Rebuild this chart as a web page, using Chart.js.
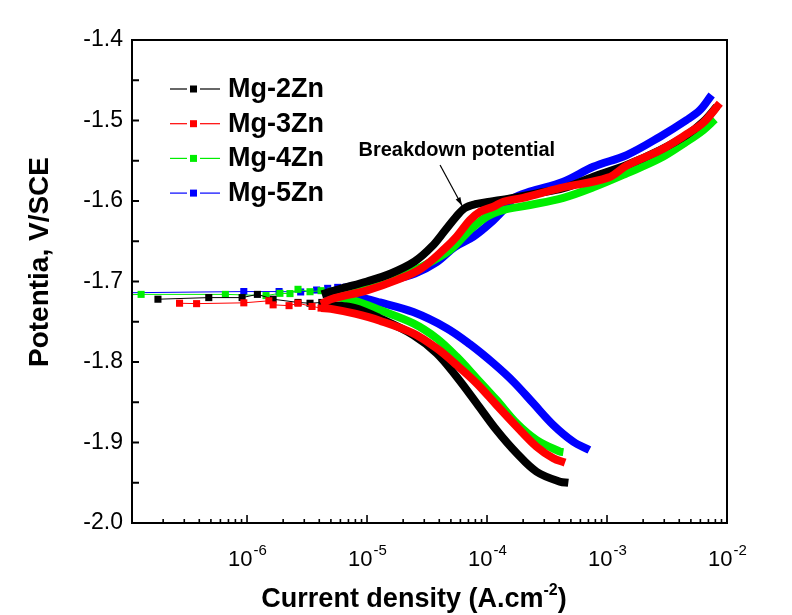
<!DOCTYPE html>
<html><head><meta charset="utf-8">
<script src="https://cdn.jsdelivr.net/npm/chart.js@4.4.1/dist/chart.umd.min.js"></script>
<style>html,body{margin:0;padding:0;background:#fff;}canvas{display:block;}</style>
</head><body>
<canvas id="c" width="792" height="615"></canvas>
<script>
// ---------- series names / colours ----------
const seriesNames = ['Mg-2Zn', 'Mg-3Zn', 'Mg-4Zn', 'Mg-5Zn'];
const seriesColors = ['#000000', '#ff0000', '#00ee00', '#0000ff'];

// ---------- axis ticks ----------
const xTickExponents = [-6, -5, -4, -3, -2];
const yTickValues = [-2.0, -1.9, -1.8, -1.7, -1.6, -1.5, -1.4];

// ---------- Mg-2Zn (current A/cm2, potential V/SCE) ----------
const mg2EcorrI = [1.81e-7, 4.8e-7, 9.1e-7, 1.22e-6, 1.65e-6, 2.66e-6, 3.35e-6, 4.2e-6];
const mg2EcorrE = [-1.722, -1.720, -1.720, -1.716, -1.722, -1.726, -1.727, -1.726];
const mg2CathI = [4.2e-6, 5.01e-6, 7.94e-6, 1.28e-5, 2.43e-5, 3.81e-5, 5.58e-5, 8.2e-5, 1.2e-4, 1.77e-4, 2.59e-4, 4.06e-4, 4.76e-4];
const mg2CathE = [-1.727, -1.729, -1.733, -1.7457, -1.7665, -1.7892, -1.8183, -1.8513, -1.8845, -1.9134, -1.9363, -1.9487, -1.950];
const mg2AnodI = [4.2e-6, 6.0e-6, 1.0e-5, 1.58e-5, 2.5e-5, 3.5e-5, 4.5e-5, 5.5e-5, 6.5e-5, 8.0e-5, 1.06e-4, 1.56e-4, 2.59e-4, 4.33e-4, 7.69e-4, 1.46e-3, 2.77e-3, 4.61e-3, 6.35e-3, 8.2e-3];
const mg2AnodE = [-1.716, -1.709, -1.700, -1.690, -1.675, -1.656, -1.636, -1.620, -1.609, -1.604, -1.6009, -1.5967, -1.5905, -1.5842, -1.5698, -1.5553, -1.5366, -1.518, -1.5015, -1.4829];

// ---------- Mg-3Zn ----------
const mg3EcorrI = [2.74e-7, 3.8e-7, 9.4e-7, 1.52e-6, 1.65e-6, 2.24e-6, 2.66e-6, 3.48e-6, 4.14e-6];
const mg3EcorrE = [-1.727, -1.7275, -1.7265, -1.724, -1.729, -1.730, -1.727, -1.731, -1.733];
const mg3CathI = [4.14e-6, 5.01e-6, 7.94e-6, 1.28e-5, 2.43e-5, 3.81e-5, 5.58e-5, 8.2e-5, 1.2e-4, 1.77e-4, 2.59e-4, 3.57e-4, 4.47e-4];
const mg3CathE = [-1.733, -1.734, -1.740, -1.7487, -1.7644, -1.783, -1.8037, -1.8265, -1.8534, -1.8804, -1.9052, -1.9196, -1.925];
const mg3AnodI = [4.14e-6, 5.01e-6, 1.0e-5, 1.78e-5, 2.82e-5, 4.47e-5, 5.58e-5, 7.21e-5, 8.75e-5, 1.13e-4, 1.37e-4, 2.0e-4, 4.06e-4, 1.02e-3, 1.46e-3, 2.77e-3, 4.61e-3, 6.31e-3, 8.71e-3];
const mg3AnodE = [-1.728, -1.722, -1.711, -1.698, -1.684, -1.6588, -1.6443, -1.6236, -1.6133, -1.6071, -1.6009, -1.596, -1.584, -1.571, -1.556, -1.537, -1.517, -1.503, -1.4786];

// ---------- Mg-4Zn ----------
const mg4EcorrI = [1.0e-7, 1.31e-7, 6.6e-7, 1.44e-6, 1.88e-6, 2.28e-6, 2.66e-6, 3.35e-6, 4.14e-6, 5.0e-6, 5.85e-6];
const mg4EcorrE = [-1.7165, -1.716, -1.716, -1.7175, -1.7147, -1.715, -1.7097, -1.7127, -1.7114, -1.712, -1.711];
const mg4CathI = [5.0e-6, 7.94e-6, 1.28e-5, 2.43e-5, 3.81e-5, 5.58e-5, 8.2e-5, 1.2e-4, 1.77e-4, 2.59e-4, 4.06e-4, 4.33e-4];
const mg4CathE = [-1.718, -1.724, -1.7354, -1.752, -1.7706, -1.7934, -1.8203, -1.8472, -1.8762, -1.8969, -1.9114, -1.912];
const mg4AnodI = [5.85e-6, 1.0e-5, 1.78e-5, 2.82e-5, 4.92e-5, 7.21e-5, 9.93e-5, 1.37e-4, 2.28e-4, 4.33e-4, 7.69e-4, 1.46e-3, 2.77e-3, 4.61e-3, 6.35e-3, 7.94e-3];
const mg4AnodE = [-1.711, -1.705, -1.695, -1.682, -1.6609, -1.636, -1.6195, -1.6112, -1.605, -1.596, -1.583, -1.5656, -1.547, -1.5263, -1.5118, -1.4985];

// ---------- Mg-5Zn ----------
const mg5EcorrI = [1.0e-7, 9.4e-7, 1.85e-6, 2.8e-6, 3.8e-6, 4.7e-6, 5.7e-6, 6.7e-6];
const mg5EcorrE = [-1.714, -1.7125, -1.7125, -1.713, -1.7106, -1.7085, -1.7073, -1.707];
const mg5CathI = [4.47e-6, 7.94e-6, 1.28e-5, 2.43e-5, 4.61e-5, 7.21e-5, 1.13e-4, 1.66e-4, 2.43e-4, 3.57e-4, 5.24e-4, 7.13e-4];
const mg5CathE = [-1.716, -1.719, -1.726, -1.738, -1.758, -1.778, -1.8016, -1.8245, -1.8513, -1.8783, -1.899, -1.9093];
const mg5AnodI = [6.7e-6, 1.0e-5, 1.58e-5, 2.51e-5, 3.8e-5, 5.4e-5, 7.7e-5, 1.06e-4, 1.37e-4, 1.66e-4, 2.28e-4, 4.33e-4, 7.69e-4, 1.46e-3, 2.77e-3, 4.61e-3, 5.96e-3, 7.45e-3];
const mg5AnodE = [-1.707, -1.703, -1.698, -1.690, -1.676, -1.657, -1.6443, -1.6277, -1.611, -1.5967, -1.5884, -1.576, -1.5574, -1.5429, -1.5201, -1.4994, -1.487, -1.4683];

// ---------- annotation ----------
const annotationText = 'Breakdown potential';

// ---------- build datasets ----------
const FONT = '"Liberation Sans", Arial, Helvetica, sans-serif';
const toPts = (I, E) => I.map((v, i) => ({x: v, y: E[i]}));
const alloys = [
  {ec: [mg2EcorrI, mg2EcorrE], ca: [mg2CathI, mg2CathE], an: [mg2AnodI, mg2AnodE]},
  {ec: [mg3EcorrI, mg3EcorrE], ca: [mg3CathI, mg3CathE], an: [mg3AnodI, mg3AnodE]},
  {ec: [mg4EcorrI, mg4EcorrE], ca: [mg4CathI, mg4CathE], an: [mg4AnodI, mg4AnodE]},
  {ec: [mg5EcorrI, mg5EcorrE], ca: [mg5CathI, mg5CathE], an: [mg5AnodI, mg5AnodE]}
];
const drawOrder = [1, 0, 2, 3];
const datasets = [];
drawOrder.forEach(k => {
  const a = alloys[k], col = seriesColors[k];
  const thick = (pts, tag) => ({
    label: seriesNames[k] + tag, data: pts, showLine: true, borderColor: col, backgroundColor: col,
    borderWidth: 8, pointRadius: 0, tension: 0.35, borderCapStyle: 'butt', borderJoinStyle: 'round'
  });
  datasets.push(thick(toPts(a.ca[0], a.ca[1]), ' cathodic'));
  datasets.push(thick(toPts(a.an[0], a.an[1]), ' anodic'));
  datasets.push({
    label: seriesNames[k], data: toPts(a.ec[0], a.ec[1]), showLine: true, borderColor: col,
    backgroundColor: col, borderWidth: 1, pointStyle: 'rect', pointRadius: 5, pointBorderWidth: 0,
    pointBackgroundColor: col, tension: 0, clip: 0
  });
});

function line(ctx, x1, y1, x2, y2) { ctx.beginPath(); ctx.moveTo(x1, y1); ctx.lineTo(x2, y2); ctx.stroke(); }

const decor = {
  id: 'decor',
  afterDraw(chart) {
    const {ctx, chartArea: a, scales: {x, y}} = chart;
    ctx.save();
    ctx.strokeStyle = '#000';
    ctx.fillStyle = '#000';
    // frame
    ctx.lineWidth = 2;
    ctx.strokeRect(a.left, a.top, a.right - a.left, a.bottom - a.top);
    // x ticks (inward)
    ctx.lineWidth = 1.6;
    for (let e = -7; e <= -2; e++) {
      for (let s = 1; s <= 9; s++) {
        const v = s * Math.pow(10, e);
        if (v < x.min * 0.999 || v > x.max * 1.001) continue;
        const px = x.getPixelForValue(v);
        line(ctx, px, a.bottom, px, a.bottom - (s === 1 ? 8 : 4));
      }
    }
    // x tick labels: 10 with raised exponent
    ctx.textAlign = 'left';
    ctx.textBaseline = 'alphabetic';
    xTickExponents.forEach(e => {
      const px = x.getPixelForValue(Math.pow(10, e));
      ctx.font = '22px ' + FONT;
      const wb = ctx.measureText('10').width;
      ctx.font = '15px ' + FONT;
      const we = ctx.measureText(String(e)).width;
      const sx = px - (wb + we) / 2;
      ctx.font = '22px ' + FONT;
      ctx.fillText('10', sx, a.bottom + 43);
      ctx.font = '15px ' + FONT;
      ctx.fillText(String(e), sx + wb + 1, a.bottom + 32);
    });
    // y ticks (inward, every 0.05)
    ctx.lineWidth = 2;
    for (let k = 0; k <= 12; k++) {
      const py = y.getPixelForValue(y.min + k * 0.05);
      line(ctx, a.left, py, a.left + 7, py);
    }
    // legend
    const lx = a.left + 38, ly = a.top + 49, dy = 34.7;
    seriesNames.forEach((name, i) => {
      const yy = ly + i * dy;
      ctx.strokeStyle = seriesColors[i];
      ctx.fillStyle = seriesColors[i];
      ctx.lineWidth = 1.2;
      line(ctx, lx, yy, lx + 17, yy);
      line(ctx, lx + 30, yy, lx + 50, yy);
      ctx.fillRect(lx + 20, yy - 3.5, 7, 7);
      ctx.fillStyle = '#000';
      ctx.font = 'bold 27px ' + FONT;
      ctx.textAlign = 'left';
      ctx.textBaseline = 'alphabetic';
      ctx.fillText(name, lx + 58, yy + 8);
    });
    // annotation
    ctx.fillStyle = '#000';
    ctx.strokeStyle = '#000';
    ctx.font = 'bold 20px ' + FONT;
    ctx.textAlign = 'center';
    ctx.textBaseline = 'middle';
    ctx.fillText(annotationText, x.getPixelForValue(5.6e-5), y.getPixelForValue(-1.537));
    const tx = x.getPixelForValue(4.06e-5), ty = y.getPixelForValue(-1.5553);
    const hx = x.getPixelForValue(6.2e-5), hy = y.getPixelForValue(-1.606);
    ctx.lineWidth = 1.2;
    line(ctx, tx, ty, hx, hy);
    const ang = Math.atan2(hy - ty, hx - tx);
    ctx.beginPath();
    ctx.moveTo(hx, hy);
    ctx.lineTo(hx - 9 * Math.cos(ang - 0.3), hy - 9 * Math.sin(ang - 0.3));
    ctx.lineTo(hx - 9 * Math.cos(ang + 0.3), hy - 9 * Math.sin(ang + 0.3));
    ctx.closePath();
    ctx.fill();
    // x title with superscript
    ctx.textAlign = 'left';
    ctx.textBaseline = 'alphabetic';
    const main = 'Current density (A.cm', sup = '-2', end = ')';
    ctx.font = 'bold 27px ' + FONT;
    const w1 = ctx.measureText(main).width, w3 = ctx.measureText(end).width;
    ctx.font = 'bold 16px ' + FONT;
    const w2 = ctx.measureText(sup).width;
    let sx = 414 - (w1 + w2 + w3) / 2;
    const by = 607;
    ctx.font = 'bold 27px ' + FONT;
    ctx.fillText(main, sx, by); sx += w1;
    ctx.font = 'bold 16px ' + FONT;
    ctx.fillText(sup, sx, by - 12); sx += w2;
    ctx.font = 'bold 27px ' + FONT;
    ctx.fillText(end, sx, by);
    // y title
    ctx.save();
    ctx.translate(40, 262);
    ctx.rotate(-Math.PI / 2);
    ctx.textAlign = 'center';
    ctx.textBaseline = 'middle';
    ctx.font = 'bold 28px ' + FONT;
    ctx.fillText('Potentia, V/SCE', 0, 0);
    ctx.restore();
    ctx.restore();
  }
};

new Chart(document.getElementById('c'), {
  type: 'scatter',
  data: {datasets},
  options: {
    responsive: false,
    animation: false,
    devicePixelRatio: 1,
    layout: {padding: {top: 40, right: 65, left: 0, bottom: 0}},
    plugins: {legend: {display: false}, tooltip: {enabled: false}},
    scales: {
      x: {
        type: 'logarithmic', min: 1.1e-7, max: 1.0e-2,
        grid: {display: false, drawTicks: false}, border: {display: false},
        afterBuildTicks: s => { s.ticks = xTickExponents.map(e => ({value: Math.pow(10, e), major: true})); },
        ticks: {display: false},
        afterFit: s => { s.height = 92; }
      },
      y: {
        min: -2.0, max: -1.4,
        grid: {display: false, drawTicks: false}, border: {display: false},
        afterBuildTicks: s => { s.ticks = yTickValues.map(v => ({value: v})); },
        ticks: {
          padding: 9, color: '#000', font: {family: FONT, size: 23},
          callback: v => Number(v).toFixed(1)
        },
        afterFit: s => { s.width = 132; }
      }
    }
  },
  plugins: [decor]
});
</script>
</body></html>
